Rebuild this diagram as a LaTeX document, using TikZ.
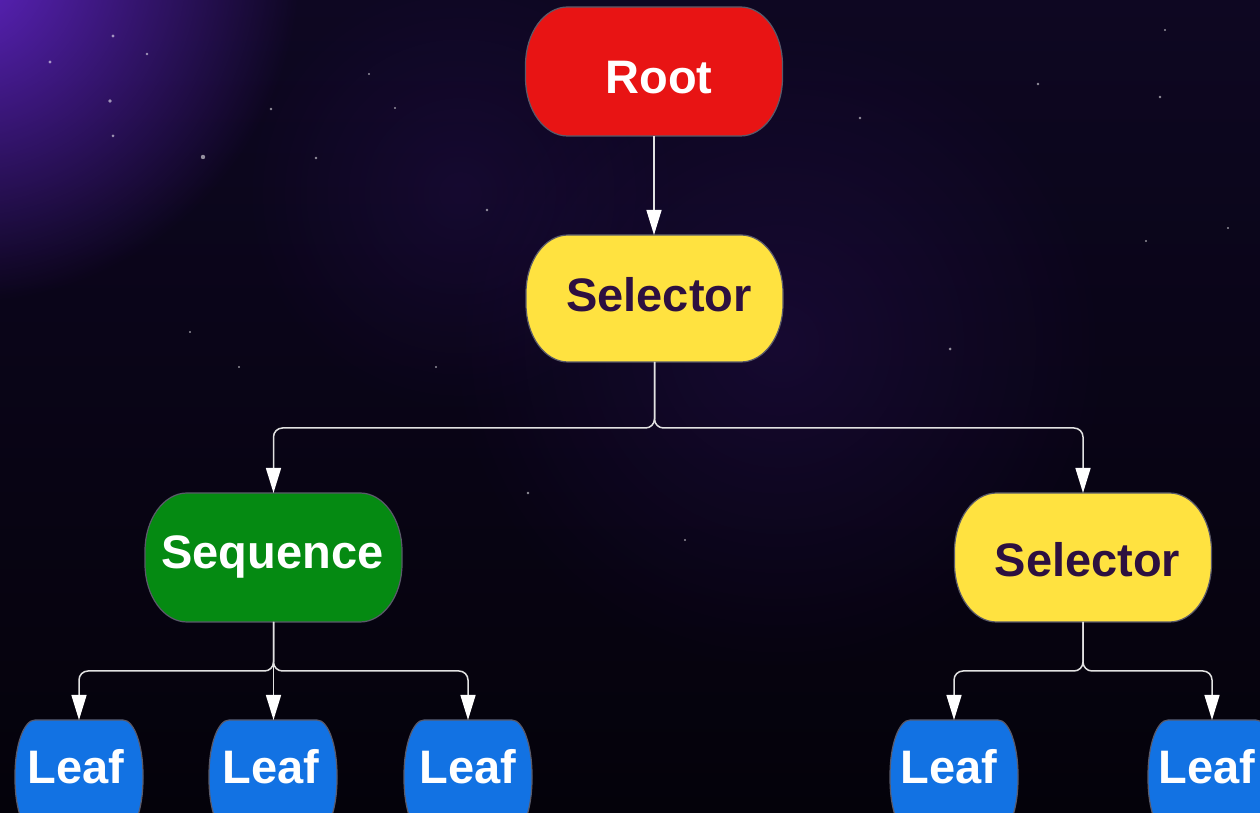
\documentclass[tikz,border=0pt]{standalone}
\usepackage{fontspec}
\setmainfont{Liberation Sans}
\usetikzlibrary{arrows.meta,fadings}
\definecolor{bgdark}{HTML}{04020A}
\definecolor{bgtop}{HTML}{0E0722}
\definecolor{glowpurple}{HTML}{6A28D8}
\definecolor{rootred}{HTML}{E81414}
\definecolor{selyellow}{HTML}{FFE240}
\definecolor{seqgreen}{HTML}{058A12}
\definecolor{leafblue}{HTML}{1272E3}
\definecolor{seltext}{HTML}{2D1040}
\definecolor{nodeborder}{HTML}{5A5A6A}
\definecolor{linecol}{HTML}{E2E2E2}
\pgfdeclarelayer{bg}
\pgfdeclarelayer{shapes}
\pgfsetlayers{bg,shapes,main}
\tikzfading[name=glowfade, inner color=transparent!10, outer color=transparent!100]
\newcommand{\drawshape}[4]{%
  \filldraw[fill=#2, draw=nodeborder, line width=1.2pt]
  ([xshift=#3pt]#1.north west) -- ([xshift=-#3pt]#1.north east)
  arc[start angle=90, end angle=0, x radius=#3pt, y radius=#4pt]
  -- ([yshift=#4pt]#1.south east)
  arc[start angle=0, end angle=-90, x radius=#3pt, y radius=#4pt]
  -- ([xshift=#3pt]#1.south west)
  arc[start angle=270, end angle=180, x radius=#3pt, y radius=#4pt]
  -- ([yshift=-#4pt]#1.north west)
  arc[start angle=180, end angle=90, x radius=#3pt, y radius=#4pt]
  -- cycle;}
\newcommand{\tx}[3]{\hspace*{#1pt}\raisebox{#2pt}{#3}\hspace*{-#1pt}}
\tikzset{
  box/.style={inner sep=0pt, outer sep=0pt, font=\bfseries\fontsize{47}{50}\selectfont,
    text height=33.7pt, text depth=0pt},
  bigbox/.style={box, minimum width=257pt, minimum height=129pt},
  leafbox/.style={box, minimum width=128pt, minimum height=114pt, text=white},
  conn/.style={draw=linecol, line width=1.5pt, rounded corners=9pt,
    -{Triangle[width=15pt,length=25pt,fill=white,color=white]}},
  star/.style={fill=white, opacity=0.55}
}
\begin{document}
\begin{tikzpicture}[x=1pt,y=1pt]
\useasboundingbox (0,0) rectangle (1260,813);
\begin{pgfonlayer}{bg}
  \shade[top color=bgtop, bottom color=bgdark] (0,0) rectangle (1260,813);
  \fill[color=glowpurple, path fading=glowfade] (-40,850) circle (340);
  \fill[color=glowpurple!70!black, path fading=glowfade, opacity=0.22] (780,470) circle (330);
  \fill[color=glowpurple!70!black, path fading=glowfade, opacity=0.18] (460,620) circle (220);
  \foreach \sx/\sy/\sr in {113/36/1.6,147/54/1.4,50/62/1.6,110/101/1.8,113/136/1.5,203/157/2.2,
      271/109/1.3,316/158/1.3,369/74/1.2,487/210/1.3,436/367/1.2,239/367/1.1,190/332/1.2,
      860/118/1.4,1038/84/1.3,1160/97/1.4,1146/241/1.2,950/349/1.5,528/493/1.3,685/540/1.1,
      1165/30/1.2,1228/228/1.1,395/108/1.1}
    \fill[star] (\sx,813-\sy) circle (\sr);
\end{pgfonlayer}

\node[bigbox, minimum height=129pt, text=white] (root) at (654,741.5) {\tx{5}{-5}{Root}};
\node[bigbox, minimum height=127pt, text=seltext] (sel1) at (654.5,514.5) {\tx{4.5}{3.5}{Selector}};
\node[bigbox, text=white] (seq) at (273.5,255.5) {\tx{-1}{6}{Sequence}};
\node[bigbox, text=seltext] (sel2) at (1083,255.5) {\tx{4.5}{-2}{Selector}};
\node[leafbox] (l1) at (79,36) {\tx{-3}{10}{Leaf}};
\node[leafbox] (l2) at (273,36) {\tx{-2}{10}{Leaf}};
\node[leafbox] (l3) at (468,36) {\tx{0}{10}{Leaf}};
\node[leafbox] (l4) at (954,36) {\tx{-5}{10}{Leaf}};
\node[leafbox] (l5) at (1212,36) {\tx{-5}{10}{Leaf}};

\begin{pgfonlayer}{shapes}
  \drawshape{root}{rootred}{42}{58}
  \drawshape{sel1}{selyellow}{42}{58}
  \drawshape{seq}{seqgreen}{42}{58}
  \drawshape{sel2}{selyellow}{42}{58}
  \drawshape{l1}{leafblue}{20}{55}
  \drawshape{l2}{leafblue}{20}{55}
  \drawshape{l3}{leafblue}{20}{55}
  \drawshape{l4}{leafblue}{20}{55}
  \drawshape{l5}{leafblue}{20}{55}
\end{pgfonlayer}

\coordinate (j1) at (654.5,385);
\coordinate (j2) at (273.5,142);
\coordinate (j3) at (1083,142);

\draw[conn] (root.south) -- (root.south |- sel1.north);
\draw[conn] (sel1.south) -- (j1) -| (seq.north);
\draw[conn] (sel1.south) -- (j1) -| (sel2.north);
\draw[conn] (seq.south) -- (j2) -| (l1.north);
\draw[conn] (seq.south) -- (seq.south |- l2.north);
\draw[conn] (seq.south) -- (j2) -| (l3.north);
\draw[conn] (sel2.south) -- (j3) -| (l4.north);
\draw[conn] (sel2.south) -- (j3) -| (l5.north);
\end{tikzpicture}
\end{document}
